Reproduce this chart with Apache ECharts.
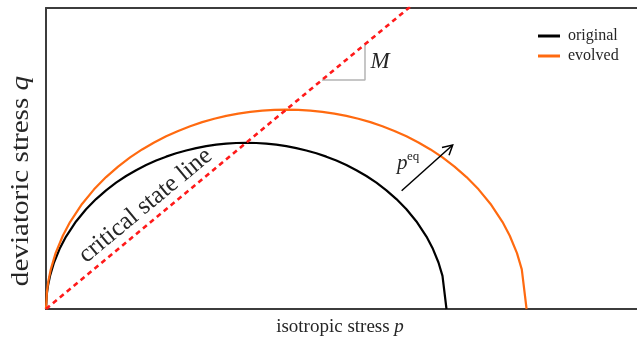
<!DOCTYPE html>
<html>
<head>
<meta charset="utf-8">
<script src="https://cdn.jsdelivr.net/npm/echarts@6/dist/echarts.min.js"></script>
<style>
  html, body { margin: 0; padding: 0; background: #fff; }
  #chart { width: 637px; height: 342px; }
</style>
</head>
<body>
<div id="chart"></div>
<script>
// Yield surfaces in the p–q plane (p normalised by the original p0)
const originalYield = [
  [0, 0], [0.002, 0.0371], [0.005, 0.0585], [0.01, 0.0826], [0.02, 0.1162],
  [0.035, 0.1525], [0.05, 0.1809], [0.075, 0.2186], [0.1, 0.249], [0.125, 0.2745],
  [0.15, 0.2964], [0.175, 0.3154], [0.2, 0.332], [0.225, 0.3466], [0.25, 0.3594],
  [0.275, 0.3706], [0.3, 0.3804], [0.325, 0.3888], [0.35, 0.3959], [0.375, 0.4018],
  [0.4, 0.4066], [0.425, 0.4103], [0.45, 0.4129], [0.475, 0.4145], [0.5, 0.415],
  [0.525, 0.4145], [0.55, 0.4129], [0.575, 0.4103], [0.6, 0.4066], [0.625, 0.4018],
  [0.65, 0.3959], [0.675, 0.3888], [0.7, 0.3804], [0.725, 0.3706], [0.75, 0.3594],
  [0.775, 0.3466], [0.8, 0.332], [0.825, 0.3154], [0.85, 0.2964], [0.875, 0.2745],
  [0.9, 0.249], [0.925, 0.2186], [0.95, 0.1809], [0.965, 0.1525], [0.98, 0.1162],
  [0.99, 0.0826], [1.0, 0]
];
const evolvedYield = [
  [0, 0], [0.0024, 0.0445], [0.006, 0.0702], [0.012, 0.0991], [0.024, 0.1394],
  [0.042, 0.183], [0.06, 0.2171], [0.09, 0.2623], [0.12, 0.2988], [0.15, 0.3294],
  [0.18, 0.3557], [0.21, 0.3785], [0.24, 0.3984], [0.27, 0.4159], [0.3, 0.4313],
  [0.33, 0.4447], [0.36, 0.4565], [0.39, 0.4666], [0.42, 0.4751], [0.45, 0.4822],
  [0.48, 0.4879], [0.51, 0.4924], [0.54, 0.4955], [0.57, 0.4974], [0.6, 0.498],
  [0.63, 0.4974], [0.66, 0.4955], [0.69, 0.4924], [0.72, 0.4879], [0.75, 0.4822],
  [0.78, 0.4751], [0.81, 0.4666], [0.84, 0.4565], [0.87, 0.4447], [0.9, 0.4313],
  [0.93, 0.4159], [0.96, 0.3984], [0.99, 0.3785], [1.02, 0.3557], [1.05, 0.3294],
  [1.08, 0.2988], [1.11, 0.2623], [1.14, 0.2171], [1.158, 0.183], [1.176, 0.1394],
  [1.188, 0.0991], [1.2, 0]
];
// Critical state line q = M p
const criticalStateLine = [[0, 0], [0.95, 0.7885]];
// Slope triangle marking M
const slopeMarker = [[0.689, 0.5718], [0.7965, 0.5718], [0.7965, 0.661]];
// Arrow showing growth of p_eq
const growthArrow = [[0.888, 0.2954], [1.0155, 0.4095]];
// Point on the CSL where its label sits
const cslLabelAt = [0.274, 0.2274];
const seriesNames = ['original', 'evolved'];
const axisNames = ['isotropic stress ', 'deviatoric stress '];

const SERIF = '"Liberation Serif", "DejaVu Serif", serif';
const TEXT = '#262626';
const chart = echarts.init(document.getElementById('chart'), null, { renderer: 'canvas' });

const axisLine = { show: true, lineStyle: { color: '#3c3c3c', width: 2 } };
const hidden = { axisTick: { show: false }, axisLabel: { show: false }, splitLine: { show: false } };

chart.setOption({
  animation: false,
  grid: { left: 46, right: 0, top: 8, bottom: 33 },
  xAxis: [
    Object.assign({ type: 'value', min: 0, max: 1.4757, axisLine }, hidden),
    Object.assign({ type: 'value', min: 0, max: 1.4757, position: 'top', axisLine }, hidden)
  ],
  yAxis: Object.assign({ type: 'value', min: 0, max: 0.7516, axisLine }, hidden),
  legend: {
    orient: 'vertical', left: 533, top: 23,
    icon: 'rect', itemWidth: 22, itemHeight: 3, itemGap: 4,
    textStyle: { fontFamily: SERIF, fontSize: 16, color: TEXT, lineHeight: 16, padding: [0, 0, 0, 3] },
    data: seriesNames
  },
  series: [
    {
      name: seriesNames[0], type: 'line', data: originalYield, showSymbol: false,
      lineStyle: { color: '#000', width: 2.2 }, itemStyle: { color: '#000' }, z: 3
    },
    {
      name: seriesNames[1], type: 'line', data: evolvedYield, showSymbol: false,
      lineStyle: { color: '#ff6a10', width: 2.2 }, itemStyle: { color: '#ff6a10' }, z: 3
    },
    {
      type: 'line', data: slopeMarker, showSymbol: false, silent: true,
      lineStyle: { color: '#b4b4b4', width: 1.5 }, z: 2
    },
    {
      type: 'line', data: growthArrow, showSymbol: false, silent: true,
      lineStyle: { color: '#000', width: 1.5 }, z: 4
    },
    {
      type: 'line', data: criticalStateLine, showSymbol: false, silent: true, clip: true,
      lineStyle: { color: '#ff1a1a', width: 2.6, type: [5, 4] }, z: 5
    }
  ]
});

// Annotations positioned through the axes
const toPx = (pt) => chart.convertToPixel({ xAxisIndex: 0, yAxisIndex: 0 }, pt);

const a0 = toPx(growthArrow[0]);
const a1 = toPx(growthArrow[1]);
const ang = Math.atan2(a1[1] - a0[1], a1[0] - a0[0]);
const head = 11, spread = 0.5;
const arm = (s) => [a1[0] - head * Math.cos(ang + s), a1[1] - head * Math.sin(ang + s)];

const c0 = toPx(criticalStateLine[0]);
const c1 = toPx(criticalStateLine[1]);
const cslAng = Math.atan2(c1[1] - c0[1], c1[0] - c0[0]);
const lp = toPx(cslLabelAt);
const nx = Math.sin(cslAng), ny = -Math.cos(cslAng);
const off = 16;

chart.setOption({
  graphic: [
    {
      type: 'polyline', silent: true, z: 10,
      shape: { points: [arm(spread), a1, arm(-spread)] },
      style: { stroke: '#000', lineWidth: 1.5, fill: null }
    },
    {
      type: 'text', silent: true, z: 10,
      x: lp[0] + nx * off, y: lp[1] + ny * off, rotation: -cslAng,
      style: { text: 'critical state line', font: '25px ' + SERIF, fill: TEXT,
               textAlign: 'center', textVerticalAlign: 'middle' }
    },
    {
      type: 'text', silent: true, z: 10, x: 340, y: 327,
      style: {
        text: '{a|' + axisNames[0] + '}{b|p}', textAlign: 'center', textVerticalAlign: 'middle',
        rich: {
          a: { font: '19px ' + SERIF, fill: TEXT },
          b: { font: 'italic 19px ' + SERIF, fill: TEXT }
        }
      }
    },
    {
      type: 'text', silent: true, z: 10, x: 21, y: 181, rotation: Math.PI / 2, scaleX: 1.12,
      style: {
        text: '{a|' + axisNames[1] + '}{b|q}', textAlign: 'center', textVerticalAlign: 'middle',
        rich: {
          a: { font: '26px ' + SERIF, fill: TEXT },
          b: { font: 'italic 26px ' + SERIF, fill: TEXT }
        }
      }
    },
    {
      type: 'text', silent: true, z: 10, x: 380, y: 62,
      style: { text: 'M', font: 'italic 23px ' + SERIF, fill: TEXT,
               textAlign: 'center', textVerticalAlign: 'middle' }
    },
    {
      type: 'text', silent: true, z: 10, x: 397, y: 163,
      style: { text: 'p', font: 'italic 21px ' + SERIF, fill: TEXT,
               textAlign: 'left', textVerticalAlign: 'middle' }
    },
    {
      type: 'text', silent: true, z: 10, x: 407, y: 157,
      style: { text: 'eq', font: '13px ' + SERIF, fill: TEXT,
               textAlign: 'left', textVerticalAlign: 'middle' }
    }
  ]
});
</script>
</body>
</html>
